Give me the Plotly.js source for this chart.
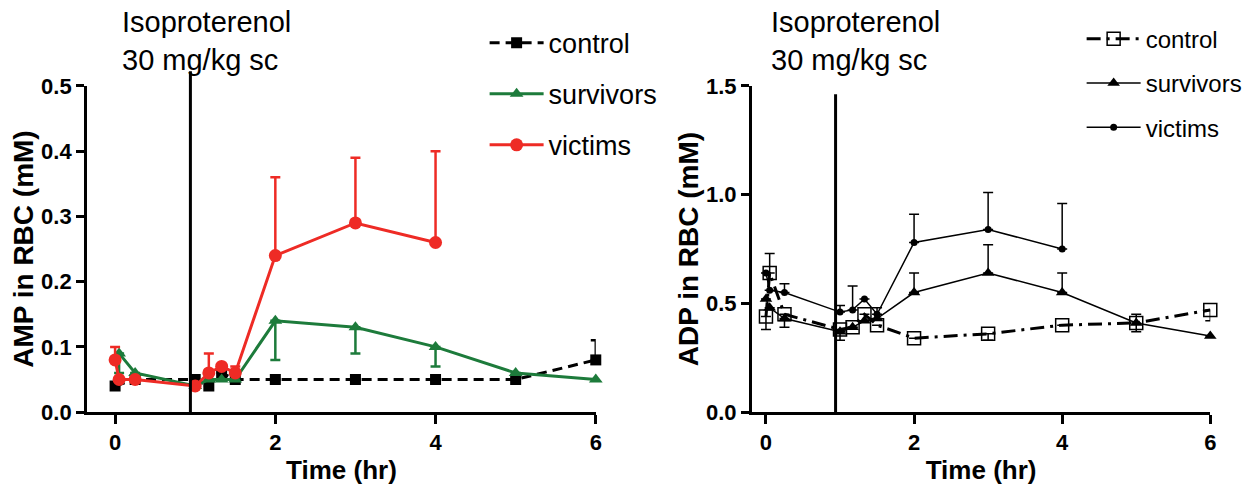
<!DOCTYPE html>
<html><head><meta charset="utf-8">
<script src="https://cdn.plot.ly/plotly-3.0.1.min.js"></script>
<style>html,body{margin:0;padding:0;background:#fff}#chart{width:1249px;height:490px}</style>
</head><body><div id="chart"></div>
<script>
// ---- Left panel: AMP in RBC (mM) ----
const ampControlT = [0, 0.25, 1, 1.17, 1.33, 1.5, 2, 3, 4, 5, 6];
const ampControlY = [0.04, 0.05, 0.05, 0.04, 0.06, 0.05, 0.05, 0.05, 0.05, 0.05, 0.08];
const ampControlErrUp = [0, 0, 0, 0, 0, 0, 0, 0, 0, 0, 0.03];

const ampSurvT = [0.05, 0.25, 1, 1.17, 1.33, 1.5, 2, 3, 4, 5, 6];
const ampSurvY = [0.09, 0.06, 0.04, 0.05, 0.05, 0.05, 0.14, 0.13, 0.10, 0.06, 0.05];
const ampSurvErrDown = [0.03, 0, 0, 0, 0, 0, 0.06, 0.04, 0.03, 0, 0];

const ampVictT = [0, 0.05, 0.25, 1, 1.17, 1.33, 1.5, 2, 3, 4];
const ampVictY = [0.08, 0.05, 0.05, 0.04, 0.06, 0.07, 0.06, 0.24, 0.29, 0.26];
const ampVictErrUp = [0.02, 0, 0, 0, 0.03, 0, 0.01, 0.12, 0.10, 0.14];

// ---- Right panel: ADP in RBC (mM) ----
const adpControlT = [0, 0.05, 0.25, 1, 1.17, 1.33, 1.5, 2, 3, 4, 5, 6];
const adpControlY = [0.44, 0.64, 0.45, 0.38, 0.39, 0.45, 0.40, 0.34, 0.36, 0.40, 0.41, 0.47];
const adpControlErrUp = [0, 0.09, 0, 0, 0, 0, 0, 0, 0, 0, 0.04, 0];
const adpControlErrDown = [0.06, 0, 0, 0.05, 0, 0, 0, 0, 0.03, 0, 0.04, 0.05];

const adpSurvT = [0, 0.05, 0.25, 1, 1.17, 1.33, 1.5, 2, 3, 4, 5, 6];
const adpSurvY = [0.52, 0.48, 0.43, 0.37, 0.39, 0.42, 0.43, 0.55, 0.64, 0.55, 0.41, 0.35];
const adpSurvErrUp = [0, 0, 0, 0, 0, 0, 0, 0.09, 0.13, 0.09, 0, 0];
const adpSurvErrDown = [0, 0, 0.04, 0, 0, 0, 0, 0, 0, 0, 0, 0];

const adpVictT = [0, 0.05, 0.25, 1, 1.17, 1.33, 1.5, 2, 3, 4];
const adpVictY = [0.64, 0.56, 0.55, 0.46, 0.47, 0.52, 0.45, 0.78, 0.84, 0.75];
const adpVictErrUp = [0, 0, 0.04, 0.03, 0.11, 0, 0.03, 0.13, 0.17, 0.21];

const seriesNames = ['control', 'survivors', 'victims'];
const xTicks = [0, 2, 4, 6];
const injectionTime = 0.94;
const drugLine1 = 'Isoproterenol';
const drugLine2 = '30 mg/kg sc';

const GREEN = '#1d7b3b', RED = '#ee2b25';
const zeros = a => a.map(() => 0);

function errBar(up, down, color, thick, w) {
  return {type: 'data', symmetric: false, array: up, arrayminus: down || zeros(up),
          color: color, thickness: thick, width: w};
}

const traces = [
  {x: ampControlT, y: ampControlY, name: seriesNames[0], mode: 'lines+markers', xaxis: 'x', yaxis: 'y',
   legend: 'legend', legendgroup: 'a1', cliponaxis: false,
   line: {color: '#000', width: 3, dash: '10px,6px'},
   marker: {symbol: 'square', size: 11, color: '#000'},
   error_y: errBar(ampControlErrUp, null, '#000', 2.5, 5)},
  {x: ampSurvT, y: ampSurvY, name: seriesNames[1], mode: 'lines+markers', xaxis: 'x', yaxis: 'y',
   legend: 'legend', legendgroup: 'a2', cliponaxis: false,
   line: {color: GREEN, width: 3},
   marker: {symbol: 'triangle-up', size: 12, color: GREEN},
   error_y: {type: 'data', symmetric: false, array: zeros(ampSurvErrDown), arrayminus: ampSurvErrDown, color: GREEN, thickness: 2.5, width: 5}},
  {x: ampVictT, y: ampVictY, name: seriesNames[2], mode: 'lines+markers', xaxis: 'x', yaxis: 'y',
   legend: 'legend', legendgroup: 'a3', cliponaxis: false,
   line: {color: RED, width: 3},
   marker: {symbol: 'circle', size: 13, color: RED},
   error_y: errBar(ampVictErrUp, null, RED, 2.5, 5)},

  {x: adpControlT, y: adpControlY, name: seriesNames[0], mode: 'lines+markers', xaxis: 'x2', yaxis: 'y2',
   legend: 'legend2', legendgroup: 'b1', cliponaxis: false,
   line: {color: '#000', width: 3, dash: '14px,6px,3px,6px'},
   marker: {symbol: 'square-open', size: 13, color: '#000', line: {width: 1.5}},
   error_y: errBar(adpControlErrUp, adpControlErrDown, '#000', 1.5, 5)},
  {x: adpSurvT, y: adpSurvY, name: seriesNames[1], mode: 'lines+markers', xaxis: 'x2', yaxis: 'y2',
   legend: 'legend2', legendgroup: 'b2', cliponaxis: false,
   line: {color: '#000', width: 1.5},
   marker: {symbol: 'triangle-up', size: 11, color: '#000'},
   error_y: errBar(adpSurvErrUp, adpSurvErrDown, '#000', 1.5, 5)},
  {x: adpVictT, y: adpVictY, name: seriesNames[2], mode: 'lines+markers', xaxis: 'x2', yaxis: 'y2',
   legend: 'legend2', legendgroup: 'b3', cliponaxis: false,
   line: {color: '#000', width: 1.5},
   marker: {symbol: 'circle', size: 7, color: '#000'},
   error_y: errBar(adpVictErrUp, null, '#000', 1.5, 5)}
];

const FAM = 'Liberation Sans, Arial, sans-serif';
const tickFont = {family: FAM, size: 22, color: '#000', weight: 'bold'};
const xTitleFont = {family: FAM, size: 26, color: '#000', weight: 'bold'};
const yTitleFont = {family: FAM, size: 28, color: '#000', weight: 'bold'};

function xAxis(domain, range, anchor) {
  return {domain: domain, range: range, anchor: anchor, tickvals: xTicks, ticktext: xTicks.map(String),
    showline: true, linecolor: '#000', linewidth: 3, ticks: 'outside', ticklen: 9, tickwidth: 3, tickcolor: '#000',
    showgrid: false, zeroline: false, tickfont: tickFont, automargin: false,
    title: {text: 'Time (hr)', font: xTitleFont, standoff: 7}};
}
function yAxis(domain, range, dtick, anchor, title) {
  return {domain: domain, range: range, anchor: anchor, dtick: dtick, tick0: 0, tickformat: '.1f',
    showline: true, linecolor: '#000', linewidth: 3, ticks: 'outside', ticklen: 8, tickwidth: 3, tickcolor: '#000',
    showgrid: false, zeroline: false, tickfont: tickFont, automargin: false,
    title: {text: title, font: yTitleFont, standoff: 0}};
}

const annFont = {family: FAM, size: 29, color: '#000'};
const legFontL = {family: FAM, size: 27, color: '#000'};
const legFontR = {family: FAM, size: 24, color: '#000'};

function ann(x, y, text) {
  return {xref: 'paper', yref: 'paper', x: x, y: y, xanchor: 'left', yanchor: 'middle', align: 'left',
          text: text, showarrow: false, font: annFont};
}

const layout = {
  width: 1249, height: 490,
  margin: {l: 0, r: 0, t: 0, b: 0, autoexpand: false},
  paper_bgcolor: '#fff', plot_bgcolor: '#fff',
  showlegend: true,
  xaxis: xAxis([0.0697, 0.477], [-0.35, 6], 'y'),
  yaxis: yAxis([0.159, 0.8245], [0, 0.5], 0.1, 'x', 'AMP in RBC (mM)'),
  xaxis2: xAxis([0.602, 0.969], [-0.19, 6], 'y2'),
  yaxis2: yAxis([0.159, 0.8245], [0, 1.5], 0.5, 'x2', 'ADP in RBC (mM)'),
  legend: {x: 0.388, y: 0.962, xanchor: 'left', yanchor: 'top', font: legFontL, bgcolor: 'rgba(0,0,0,0)',
           itemwidth: 54, tracegroupgap: 13, traceorder: 'grouped'},
  legend2: {x: 0.866, y: 0.966, xanchor: 'left', yanchor: 'top', font: legFontR, bgcolor: 'rgba(0,0,0,0)',
            itemwidth: 54, tracegroupgap: 10, traceorder: 'grouped'},
  shapes: [
    {type: 'line', xref: 'x', yref: 'y domain', x0: injectionTime, x1: injectionTime, y0: 0, y1: 1.045,
     line: {color: '#000', width: 3}},
    {type: 'line', xref: 'x2', yref: 'y2 domain', x0: injectionTime, x1: injectionTime, y0: 0, y1: 0.975,
     line: {color: '#000', width: 3}}
  ],
  annotations: [
    ann(0.096, (490 - 22) / 490, drugLine1),
    ann(0.096, (490 - 60) / 490, drugLine2),
    ann(0.616, (490 - 22) / 490, drugLine1),
    ann(0.616, (490 - 60) / 490, drugLine2)
  ]
};

Plotly.newPlot('chart', traces, layout, {displayModeBar: false, staticPlot: true});
</script></body></html>
